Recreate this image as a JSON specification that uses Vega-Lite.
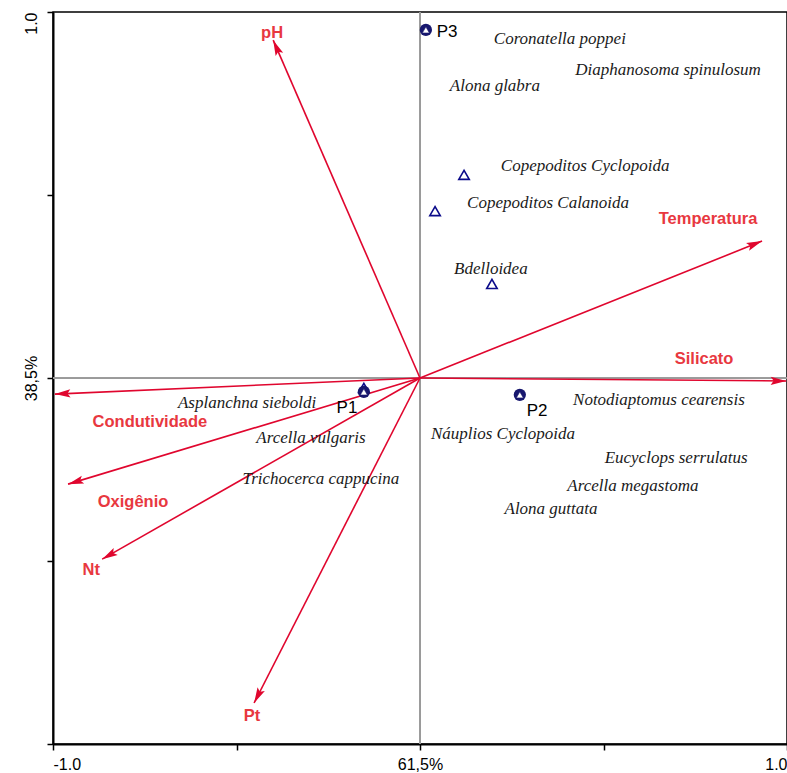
{
  "$schema": "https://vega.github.io/schema/vega-lite/v6.json",
  "width": 734,
  "height": 732,
  "autosize": "none",
  "padding": {"left": 53, "top": 12, "right": 0, "bottom": 29},
  "background": "white",
  "config": {
    "view": {"stroke": "black", "strokeWidth": 1.5},
    "font": "Liberation Sans"
  },
  "datasets": {
    "arrows": [
      {"var": "pH", "x": -0.400, "y": 0.923},
      {"var": "Temperatura", "x": 0.932, "y": 0.374},
      {"var": "Silicato", "x": 0.998, "y": -0.008},
      {"var": "Condutividade", "x": -0.995, "y": -0.044},
      {"var": "Oxigênio", "x": -0.959, "y": -0.290},
      {"var": "Nt", "x": -0.866, "y": -0.495},
      {"var": "Pt", "x": -0.452, "y": -0.888}
    ],
    "arrowLabels": [
      {"var": "pH", "x": -0.403, "y": 0.943},
      {"var": "Temperatura", "x": 0.785, "y": 0.434},
      {"var": "Silicato", "x": 0.774, "y": 0.052},
      {"var": "Condutividade", "x": -0.736, "y": -0.120},
      {"var": "Oxigênio", "x": -0.782, "y": -0.339},
      {"var": "Nt", "x": -0.896, "y": -0.525},
      {"var": "Pt", "x": -0.458, "y": -0.923}
    ],
    "species": [
      {"name": "Coronatella poppei", "x": 0.381, "y": 0.926},
      {"name": "Diaphanosoma spinulosum", "x": 0.676, "y": 0.842},
      {"name": "Alona glabra", "x": 0.204, "y": 0.798},
      {"name": "Copepoditos Cyclopoida", "x": 0.450, "y": 0.579},
      {"name": "Copepoditos Calanoida", "x": 0.349, "y": 0.478},
      {"name": "Bdelloidea", "x": 0.193, "y": 0.298},
      {"name": "Asplanchna sieboldi", "x": -0.471, "y": -0.068},
      {"name": "Arcella vulgaris", "x": -0.297, "y": -0.164},
      {"name": "Trichocerca cappucina", "x": -0.270, "y": -0.276},
      {"name": "Notodiaptomus cearensis", "x": 0.651, "y": -0.060},
      {"name": "Náuplios Cyclopoida", "x": 0.226, "y": -0.153},
      {"name": "Eucyclops serrulatus", "x": 0.698, "y": -0.219},
      {"name": "Arcella megastoma", "x": 0.580, "y": -0.295},
      {"name": "Alona guttata", "x": 0.357, "y": -0.358}
    ],
    "triangles": [
      {"x": -0.153, "y": -0.027},
      {"x": 0.120, "y": 0.555},
      {"x": 0.041, "y": 0.456},
      {"x": 0.196, "y": 0.257}
    ],
    "sites": [
      {"site": "P1", "x": -0.153, "y": -0.038, "lx": -0.199, "ly": -0.082},
      {"site": "P2", "x": 0.272, "y": -0.046, "lx": 0.319, "ly": -0.090},
      {"site": "P3", "x": 0.016, "y": 0.951, "lx": 0.074, "ly": 0.945}
    ]
  },
  "layer": [
    {
      "data": {"name": "arrows"},
      "mark": {"type": "rule", "color": "#9a9a9a", "strokeWidth": 0.9},
      "encoding": {
        "x": {"datum": 0, "type": "quantitative", "title": null,
          "scale": {"domain": [-1, 1], "nice": false, "zero": false},
          "axis": {
            "values": [-1, -0.5, 0, 0.5, 1],
            "labelExpr": "datum.value == -1 ? '-1.0' : datum.value == 1 ? '1.0' : datum.value == 0 ? '61,5%' : ''",
            "grid": false, "domainColor": "black", "domainWidth": 2,
            "tickColor": "black", "tickWidth": 1.5, "tickSize": 6,
            "labelFontSize": 16, "labelColor": "black", "labelFont": "Liberation Sans",
            "labelFlush": true, "labelPadding": 6
          }
        }
      }
    },
    {
      "data": {"name": "arrows"},
      "mark": {"type": "rule", "color": "#9a9a9a", "strokeWidth": 0.9},
      "encoding": {
        "y": {"datum": 0, "type": "quantitative", "title": null,
          "scale": {"domain": [-1, 1], "nice": false, "zero": false},
          "axis": {
            "values": [-1, -0.5, 0, 0.5, 1],
            "labelExpr": "datum.value == 1 ? '1.0' : datum.value == 0 ? '38,5%' : ''",
            "grid": false, "domainColor": "black", "domainWidth": 2,
            "tickColor": "black", "tickWidth": 1.5, "tickSize": 6,
            "labelFontSize": 16, "labelColor": "black", "labelFont": "Liberation Sans",
            "labelAngle": 270,
            "labelAlign": {"condition": {"test": "datum.value == 1", "value": "right"}, "value": "center"},
            "labelBaseline": "bottom",
            "labelPadding": 8
          }
        }
      }
    },
    {
      "data": {"name": "arrows"},
      "mark": {"type": "rule", "color": "#e0062e", "strokeWidth": 1.6},
      "encoding": {
        "x": {"field": "x", "type": "quantitative", "title": null},
        "y": {"field": "y", "type": "quantitative", "title": null},
        "x2": {"datum": 0},
        "y2": {"datum": 0}
      }
    },
    {
      "data": {"name": "arrows"},
      "transform": [{"calculate": "atan2(datum.x, datum.y) * 180 / PI", "as": "ang"}],
      "mark": {"type": "point", "shape": "M0,0L0.42,1.6L0,1.3L-0.42,1.6Z", "filled": true, "color": "#e0062e", "opacity": 1, "size": 380},
      "encoding": {
        "x": {"field": "x", "type": "quantitative", "title": null},
        "y": {"field": "y", "type": "quantitative", "title": null},
        "angle": {"field": "ang", "type": "quantitative", "scale": null}
      }
    },
    {
      "data": {"name": "arrowLabels"},
      "mark": {"type": "text", "font": "Liberation Sans", "fontWeight": "bold", "fontSize": 16.5, "color": "#e8383f", "baseline": "middle", "align": "center"},
      "encoding": {
        "x": {"field": "x", "type": "quantitative", "title": null},
        "y": {"field": "y", "type": "quantitative", "title": null},
        "text": {"field": "var"}
      }
    },
    {
      "data": {"name": "species"},
      "mark": {"type": "text", "font": "Liberation Serif", "fontStyle": "italic", "fontSize": 17, "color": "#1a1a1a", "baseline": "middle", "align": "center"},
      "encoding": {
        "x": {"field": "x", "type": "quantitative", "title": null},
        "y": {"field": "y", "type": "quantitative", "title": null},
        "text": {"field": "name"}
      }
    },
    {
      "data": {"name": "triangles"},
      "mark": {"type": "point", "shape": "triangle-up", "filled": false, "color": "#0b0b8a", "strokeWidth": 1.6, "size": 110, "opacity": 1},
      "encoding": {
        "x": {"field": "x", "type": "quantitative", "title": null},
        "y": {"field": "y", "type": "quantitative", "title": null}
      }
    },
    {
      "data": {"name": "sites"},
      "mark": {"type": "point", "shape": "circle", "filled": true, "color": "#17176e", "size": 150, "opacity": 1},
      "encoding": {
        "x": {"field": "x", "type": "quantitative", "title": null},
        "y": {"field": "y", "type": "quantitative", "title": null}
      }
    },
    {
      "data": {"name": "sites"},
      "mark": {"type": "point", "shape": "triangle-up", "filled": true, "fill": "white", "stroke": "#17176e", "strokeWidth": 0.6, "size": 50, "opacity": 1},
      "encoding": {
        "x": {"field": "x", "type": "quantitative", "title": null},
        "y": {"field": "y", "type": "quantitative", "title": null}
      }
    },
    {
      "data": {"name": "sites"},
      "mark": {"type": "text", "font": "Liberation Sans", "fontSize": 17, "color": "black", "baseline": "middle", "align": "center"},
      "encoding": {
        "x": {"field": "lx", "type": "quantitative", "title": null},
        "y": {"field": "ly", "type": "quantitative", "title": null},
        "text": {"field": "site"}
      }
    }
  ]
}
